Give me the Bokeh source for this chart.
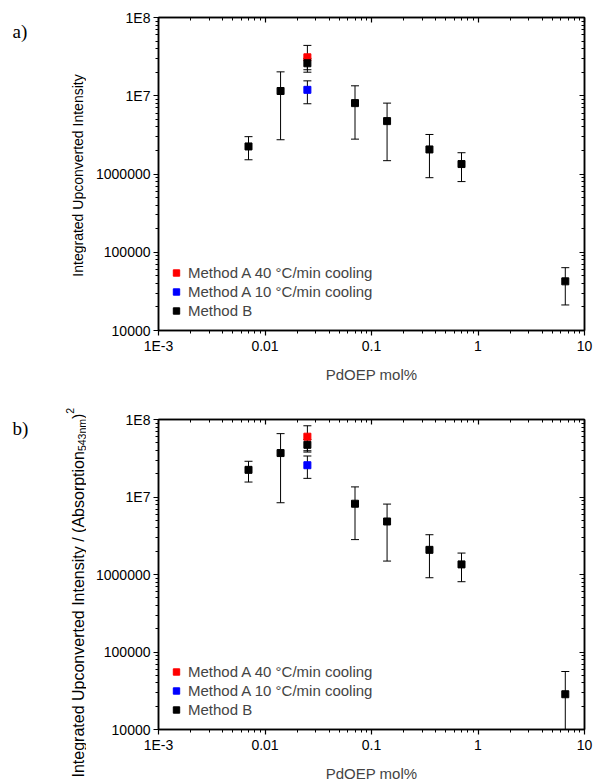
import math
from bokeh.plotting import figure
from bokeh.models import (LogAxis, FixedTicker, Whisker, TeeHead, ColumnDataSource,
                          Legend, LegendItem, Range1d)
from bokeh.core.properties import value
from bokeh.layouts import column, row
from bokeh.embed import file_html
from bokeh.resources import INLINE

# ---------------- data ----------------
x_B = [0.007, 0.014, 0.025, 0.07, 0.14, 0.35, 0.7, 6.6]
x_A = [0.025]

# panel a) Integrated upconverted intensity
a_B = [2.25e6, 1.15e7, 2.6e7, 8.05e6, 4.74e6, 2.06e6, 1.34e6, 4.25e4]
a_B_hi = [3.0e6, 2.02e7, 3.0e7, 1.34e7, 8.05e6, 3.2e6, 1.87e6, 6.35e4]
a_B_lo = [1.52e6, 2.74e6, 2.0e7, 2.79e6, 1.48e6, 8.97e5, 8.0e5, 2.12e4]
a_A40 = [3.1e7]
a_A40_hi = [4.4e7]
a_A40_lo = [2.15e7]
a_A10 = [1.19e7]
a_A10_hi = [1.55e7]
a_A10_lo = [7.9e6]

# panel b) Integrated upconverted intensity / absorption^2
b_B = [2.24e7, 3.69e7, 4.71e7, 8.19e6, 4.83e6, 2.08e6, 1.35e6, 2.85e4]
b_B_hi = [2.89e7, 6.57e7, 5.5e7, 1.35e7, 8.1e6, 3.26e6, 1.89e6, 5.6e4]
b_B_lo = [1.56e7, 8.43e6, 3.8e7, 2.82e6, 1.49e6, 9.08e5, 8.07e5, 1.0e4]
b_A40 = [6.0e7]
b_A40_hi = [8.3e7]
b_A40_lo = [3.95e7]
b_A10 = [2.57e7]
b_A10_hi = [3.38e7]
b_A10_lo = [1.74e7]

y_major = [1e4, 1e5, 1e6, 1e7, 1e8]
y_labels = ["10000", "100000", "1000000", "1E7", "1E8"]
x_major = [0.001, 0.01, 0.1, 1.0, 10.0]
x_labels = ["1E-3", "0.01", "0.1", "1", "10"]

legend_labels = ["Method A 40 \u00b0C/min cooling", "Method A 10 \u00b0C/min cooling", "Method B"]
colors = ["#ff0000", "#0000ff", "#000000"]

FONT = "Liberation Sans"
TICK_FS = "14px"
LEG_FS = "15px"
LEFT_W = 86
PAGE_H = 784
H = 392


def minor_list(lo_exp, hi_exp):
    out = []
    for k in range(lo_exp, hi_exp):
        for m in range(2, 10):
            out.append(float(f"{m}e{k}"))
    return out


def style_axis(ax, labels=True, inward=False):
    ax.axis_line_color = "black"
    ax.axis_line_width = 1.5
    ax.major_tick_line_color = "black"
    ax.minor_tick_line_color = "black"
    ax.major_tick_line_width = 1.2
    ax.minor_tick_line_width = 1
    if inward:
        ax.major_tick_in = 5
        ax.major_tick_out = 0
        ax.minor_tick_in = 3
        ax.minor_tick_out = 0
    else:
        ax.major_tick_in = 0
        ax.major_tick_out = 5
        ax.minor_tick_in = 0
        ax.minor_tick_out = 3
    ax.major_label_text_font = FONT
    if labels:
        ax.major_label_text_font_size = TICK_FS
        ax.major_label_text_color = "black"
    else:
        ax.major_label_text_font_size = "1px"
        ax.major_label_text_alpha = 0
        ax.major_label_standoff = 0


def make_panel(ys, width, height, mb):
    (B, B_hi, B_lo, A40, A40_hi, A40_lo, A10, A10_hi, A10_lo) = ys
    p = figure(width=width, height=height, x_axis_type="log", y_axis_type="log",
               x_range=Range1d(1e-3, 10), y_range=Range1d(1e4, 1e8),
               output_backend="svg", toolbar_location=None,
               min_border_left=mb[0], min_border_right=mb[1],
               min_border_top=mb[2], min_border_bottom=mb[3])
    p.xgrid.visible = False
    p.ygrid.visible = False
    p.outline_line_color = "black"
    p.outline_line_width = 1.5
    p.background_fill_color = "white"
    p.border_fill_color = "white"

    xt = dict(ticks=x_major, minor_ticks=minor_list(-3, 1))
    yt = dict(ticks=y_major, minor_ticks=minor_list(4, 8))

    xa = p.xaxis[0]
    xa.ticker = FixedTicker(**xt)
    xa.major_label_overrides = dict(zip(x_major, x_labels))
    style_axis(xa)
    xa.major_label_standoff = 2
    xa.axis_label = "PdOEP mol%"
    xa.axis_label_text_font = FONT
    xa.axis_label_text_font_size = LEG_FS
    xa.axis_label_text_font_style = "normal"
    xa.axis_label_standoff = 9

    ya = p.yaxis[0]
    ya.ticker = FixedTicker(**yt)
    ya.major_label_overrides = dict(zip(y_major, y_labels))
    style_axis(ya)
    ya.major_label_standoff = 3

    top = LogAxis(ticker=FixedTicker(**xt))
    style_axis(top, labels=False, inward=True)
    p.add_layout(top, "above")
    right = LogAxis(ticker=FixedTicker(**yt))
    style_axis(right, labels=False, inward=True)
    p.add_layout(right, "right")

    renderers = []
    for xs, yv, hi, lo, c in [(x_A, A40, A40_hi, A40_lo, colors[0]),
                              (x_A, A10, A10_hi, A10_lo, colors[1]),
                              (x_B, B, B_hi, B_lo, colors[2])]:
        src = ColumnDataSource(dict(x=xs, y=yv, upper=hi, lower=lo))
        w = Whisker(base="x", upper="upper", lower="lower", source=src,
                    line_color="black", line_width=1,
                    upper_head=TeeHead(size=8, line_color="black", line_width=1),
                    lower_head=TeeHead(size=8, line_color="black", line_width=1))
        p.add_layout(w)
        r = p.scatter("x", "y", source=src, marker="square", size=7,
                      fill_color=c, line_color=c)
        renderers.append(r)

    legend = Legend(items=[LegendItem(label=lab, renderers=[r])
                           for lab, r in zip(legend_labels, renderers)],
                    location=(10, 10), label_text_font=FONT, label_text_font_size=LEG_FS,
                    glyph_width=16, glyph_height=19, label_height=19, spacing=0,
                    padding=0, margin=0, label_standoff=4, border_line_alpha=0,
                    background_fill_alpha=0)
    p.add_layout(legend)
    return p


p1 = make_panel((a_B, a_B_hi, a_B_lo, a_A40, a_A40_hi, a_A40_lo, a_A10, a_A10_hi, a_A10_lo),
                593 - LEFT_W, H, (158 - LEFT_W, 8, 17, 62))
p2 = make_panel((b_B, b_B_hi, b_B_lo, b_A40, b_A40_hi, b_A40_lo, b_A10, b_A10_hi, b_A10_lo),
                593 - LEFT_W, H, (154 - LEFT_W, 9, 27, 51))

# one tall text strip on the left for the axis titles and panel letters
t = figure(width=LEFT_W, height=PAGE_H, x_range=Range1d(0, LEFT_W),
           y_range=Range1d(0, PAGE_H), output_backend="svg", toolbar_location=None,
           x_axis_location=None, y_axis_location=None,
           min_border_left=0, min_border_right=0, min_border_top=0, min_border_bottom=0)
t.xgrid.visible = False
t.ygrid.visible = False
t.outline_line_color = None
t.background_fill_color = "white"
t.border_fill_color = "white"


def put(x, py, text, size, font=FONT, angle=0.0, align="left"):
    # py measured from the top of the page
    t.text(x=[x], y=[PAGE_H - py], text=[text], angle=angle, text_align=align,
           text_baseline="alphabetic", text_font=value(font),
           text_font_size=value(size), text_color="black")


ROT = math.pi / 2

# y-axis title, panel a
put(77, 175, "Integrated Upconverted Intensity", "14px", angle=ROT, align="center")

# y-axis title, panel b (with subscript and superscript)
FS = 16.0
SFS = 10.5
main_txt = "Integrated Upconverted Intensity / (Absorption"
main_w = 20.399 * FS
sub_w = 3.057 * SFS
par_w = 0.333 * FS
y0 = 777
put(78, y0, main_txt, f"{FS:g}px", angle=ROT)
put(81, y0 - main_w, "543nm", f"{SFS:g}px", angle=ROT)
put(78, y0 - main_w - sub_w, ")", f"{FS:g}px", angle=ROT)
put(69, y0 - main_w - sub_w - par_w, "2", f"{SFS:g}px", angle=ROT)

# panel letters
put(12, 31, "a)", "19px", font="Liberation Serif")
put(12, 428, "b)", "19px", font="Liberation Serif")

layout = row(t, column(p1, p2))
open("out.html", "w").write(file_html(layout, INLINE))
